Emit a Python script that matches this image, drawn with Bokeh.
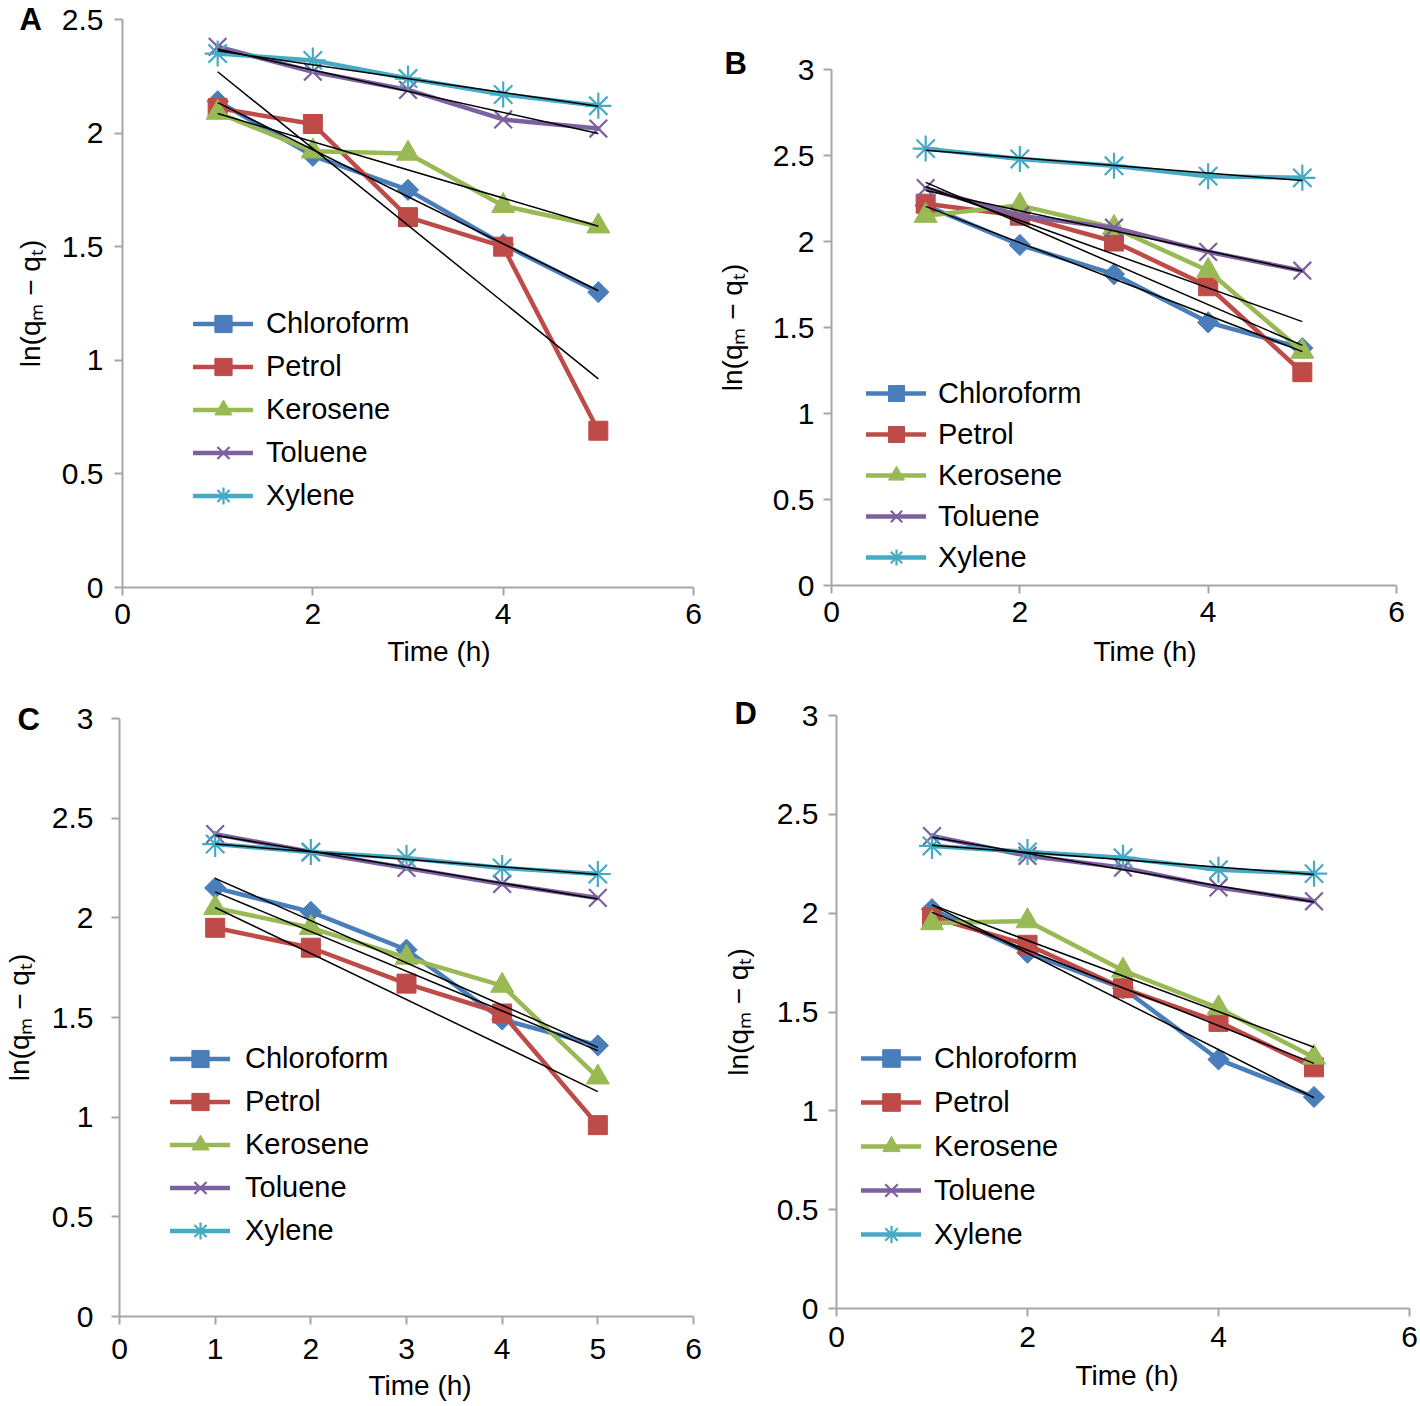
import numpy as np
from bokeh.plotting import figure
from bokeh.models import Legend, LegendItem, FixedTicker, Range1d, NumeralTickFormatter, Title
from bokeh.layouts import column, row
from bokeh.embed import file_html
from bokeh.resources import INLINE

# ---------------- data ----------------
time_h = [1, 2, 3, 4, 5]
series_names = ["Chloroform", "Petrol", "Kerosene", "Toluene", "Xylene"]

# Panel A
a_chloroform = [2.14, 1.90, 1.75, 1.51, 1.30]
a_petrol = [2.11, 2.04, 1.63, 1.50, 0.69]
a_kerosene = [2.09, 1.92, 1.91, 1.68, 1.59]
a_toluene = [2.38, 2.27, 2.19, 2.06, 2.02]
a_xylene = [2.35, 2.32, 2.24, 2.17, 2.12]

# Panel B
b_chloroform = [2.21, 1.98, 1.81, 1.53, 1.38]
b_petrol = [2.22, 2.15, 2.00, 1.74, 1.24]
b_kerosene = [2.15, 2.21, 2.08, 1.83, 1.36]
b_toluene = [2.31, 2.15, 2.08, 1.94, 1.83]
b_xylene = [2.54, 2.48, 2.44, 2.38, 2.37]

# Panel C
c_chloroform = [2.15, 2.03, 1.84, 1.49, 1.36]
c_petrol = [1.95, 1.85, 1.67, 1.52, 0.96]
c_kerosene = [2.05, 1.95, 1.80, 1.66, 1.20]
c_toluene = [2.42, 2.33, 2.25, 2.17, 2.10]
c_xylene = [2.37, 2.33, 2.30, 2.25, 2.22]

# Panel D
d_chloroform = [2.02, 1.80, 1.62, 1.26, 1.07]
d_petrol = [1.98, 1.84, 1.62, 1.45, 1.22]
d_kerosene = [1.95, 1.96, 1.71, 1.52, 1.27]
d_toluene = [2.39, 2.29, 2.23, 2.13, 2.06]
d_xylene = [2.34, 2.31, 2.28, 2.22, 2.20]

x_ticks_coarse = [0, 2, 4, 6]
x_ticks_fine = [0, 1, 2, 3, 4, 5, 6]
y_ticks_a = [0, 0.5, 1, 1.5, 2, 2.5]
y_ticks_bcd = [0, 0.5, 1, 1.5, 2, 2.5, 3]

x_title = "Time (h)"
y_title = "ln(q\u2098 \u2212 q\u209c)"

# ---------------- styles / layout ----------------
FONT = "Liberation Sans"
AXIS_GRAY = "#A6A6A6"
COLORS = ["#4A7EBB", "#BE4B48", "#98B954", "#7D60A0", "#46AAC5"]
MARKERS = [("square", 15, np.pi / 4), ("square", 19, 0), ("triangle", 23, 0),
           ("x", 25, 0), ("asterisk", 26, 0)]

# page-pixel geometry of every panel: figure box (left, top, width, height) and frame edges
PANELS = [
    dict(letter="A", series=[a_chloroform, a_petrol, a_kerosene, a_toluene, a_xylene],
         y_ticks=y_ticks_a, x_ticks=x_ticks_coarse,
         left=0, top=0, width=708, height=678, fl=122, fr=693, ft=19, fb=587,
         xstand=8, ystand=11, ylab_stand=13,
         letter_off=-103, letter_so=-34, xt_off=265, xt_so=14,
         leg_x=193, leg_first=324, leg_h=43, leg_sp=0, leg_stand=13),
    dict(letter="B", series=[b_chloroform, b_petrol, b_kerosene, b_toluene, b_xylene],
         y_ticks=y_ticks_bcd, x_ticks=x_ticks_coarse,
         left=708, top=0, width=702, height=678, fl=831, fr=1396, ft=69, fb=585,
         xstand=8, ystand=9, ylab_stand=22,
         letter_off=-107, letter_so=-22, xt_off=262, xt_so=18,
         leg_x=866, leg_first=393, leg_h=40, leg_sp=1, leg_stand=12),
    dict(letter="C", series=[c_chloroform, c_petrol, c_kerosene, c_toluene, c_xylene],
         y_ticks=y_ticks_bcd, x_ticks=x_ticks_fine,
         left=0, top=678, width=708, height=728, fl=116, fr=693, ft=718, fb=1316,
         xstand=14, ystand=18, ylab_stand=14,
         letter_off=-102, letter_so=-36, xt_off=249, xt_so=12,
         leg_x=167, leg_first=1059, leg_h=43, leg_sp=0, leg_stand=15),
    dict(letter="D", series=[d_chloroform, d_petrol, d_kerosene, d_toluene, d_xylene],
         y_ticks=y_ticks_bcd, x_ticks=x_ticks_coarse,
         left=708, top=678, width=711, height=728, fl=836, fr=1409, ft=715, fb=1308,
         xstand=10, ystand=10, ylab_stand=20,
         letter_off=-102, letter_so=-30, xt_off=239, xt_so=16,
         leg_x=861, leg_first=1058, leg_h=44, leg_sp=0, leg_stand=13),
]


def make_panel(cfg):
    p = figure(width=cfg["width"], height=cfg["height"],
               x_range=Range1d(cfg["x_ticks"][0], cfg["x_ticks"][-1]),
               y_range=Range1d(cfg["y_ticks"][0], cfg["y_ticks"][-1]),
               output_backend="svg", toolbar_location=None,
               min_border_left=cfg["fl"] - cfg["left"],
               min_border_right=cfg["left"] + cfg["width"] - cfg["fr"],
               min_border_top=cfg["ft"] - cfg["top"],
               min_border_bottom=cfg["top"] + cfg["height"] - cfg["fb"])
    p.outline_line_color = None
    p.xgrid.visible = False
    p.ygrid.visible = False

    p.xaxis.ticker = FixedTicker(ticks=cfg["x_ticks"])
    p.yaxis.ticker = FixedTicker(ticks=cfg["y_ticks"])
    p.yaxis.formatter = NumeralTickFormatter(format="0.[0]")
    for ax in (p.xaxis[0], p.yaxis[0]):
        ax.axis_line_color = AXIS_GRAY
        ax.axis_line_width = 2
        ax.major_tick_line_color = AXIS_GRAY
        ax.major_tick_line_width = 2
        ax.major_tick_out = 8
        ax.major_tick_in = 0
        ax.minor_tick_line_color = None
        ax.major_label_text_font = FONT
        ax.major_label_text_font_size = "30px"
        ax.major_label_text_color = "black"
    p.xaxis.major_label_standoff = cfg["xstand"]
    p.yaxis.major_label_standoff = cfg["ystand"]

    # y-axis title
    p.yaxis.axis_label = y_title
    p.yaxis.axis_label_text_font = FONT
    p.yaxis.axis_label_text_font_size = "28px"
    p.yaxis.axis_label_text_font_style = "normal"
    p.yaxis.axis_label_text_color = "black"
    p.yaxis.axis_label_standoff = cfg["ylab_stand"]

    items = []
    for name, vals, color, (mk, ms, ang) in zip(series_names, cfg["series"], COLORS, MARKERS):
        lr = p.line(time_h, vals, line_color=color, line_width=4.5,
                    line_join="round", line_cap="round")
        if mk in ("x", "asterisk"):
            sr = p.scatter(time_h, vals, marker=mk, size=ms, line_color=color,
                           line_width=2.2, fill_color=color)
        else:
            sr = p.scatter(time_h, vals, marker=mk, size=ms, angle=ang,
                           fill_color=color, line_color=color, line_width=1)
        items.append(LegendItem(label=name, renderers=[lr, sr]))

    # linear trend lines (least squares fit of each series)
    xt = np.array([min(time_h), max(time_h)], dtype=float)
    for vals in cfg["series"]:
        slope, icpt = np.polyfit(time_h, vals, 1)
        p.line(xt, slope * xt + icpt, line_color="black", line_width=1.5)

    gh, sp = cfg["leg_h"], cfg["leg_sp"]
    leg_bottom = cfg["leg_first"] - gh / 2 + 5 * gh + 4 * sp
    legend = Legend(items=items,
                    location=(cfg["leg_x"] - cfg["fl"], round(cfg["fb"] - leg_bottom)),
                    glyph_width=60, glyph_height=gh, label_height=gh,
                    spacing=sp, label_standoff=cfg["leg_stand"],
                    padding=0, margin=0, border_line_alpha=0,
                    background_fill_alpha=0, label_text_font=FONT,
                    label_text_font_size="29px", label_text_color="black")
    p.add_layout(legend)

    # x-axis title (below the axis)
    p.add_layout(Title(text=x_title, align="left", offset=cfg["xt_off"],
                       standoff=cfg["xt_so"], text_font=FONT, text_font_size="28px",
                       text_font_style="normal", text_color="black"), "below")
    # panel letter (above the frame)
    p.add_layout(Title(text=cfg["letter"], align="left", offset=cfg["letter_off"],
                       standoff=cfg["letter_so"], text_font=FONT, text_font_size="31px",
                       text_font_style="bold", text_color="black"), "above")
    return p


figs = [make_panel(c) for c in PANELS]
layout = column(row(row(figs[0]), row(figs[1])), row(row(figs[2]), row(figs[3])))

open("out.html", "w").write(file_html(layout, INLINE))
